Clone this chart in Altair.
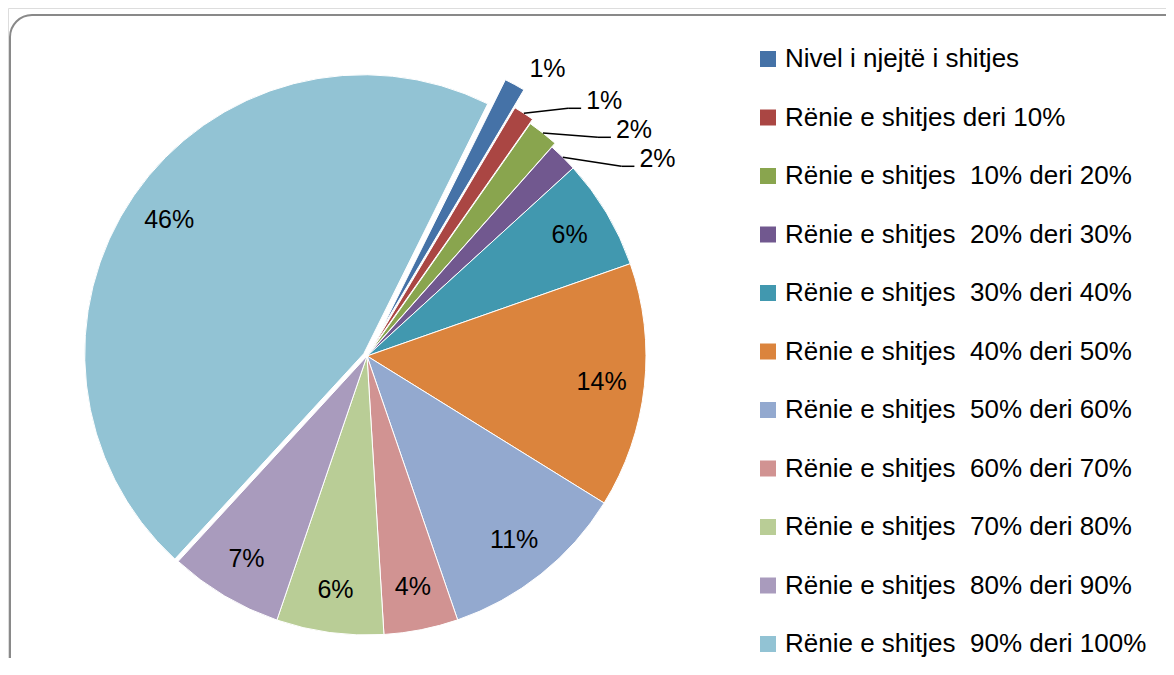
import math
import altair as alt
import pandas as pd

# ---------------- data ----------------
categories = [
    "Nivel i njejtë i shitjes",
    "Rënie e shitjes deri 10%",
    "Rënie e shitjes\u00a0 10% deri 20%",
    "Rënie e shitjes\u00a0 20% deri 30%",
    "Rënie e shitjes\u00a0 30% deri 40%",
    "Rënie e shitjes\u00a0 40% deri 50%",
    "Rënie e shitjes\u00a0 50% deri 60%",
    "Rënie e shitjes\u00a0 60% deri 70%",
    "Rënie e shitjes\u00a0 70% deri 80%",
    "Rënie e shitjes\u00a0 80% deri 90%",
    "Rënie e shitjes\u00a0 90% deri 100%",
]
values = [1.2, 1.2, 1.8, 1.7, 6.4, 14.2, 10.9, 4.3, 6.2, 6.6, 45.5]
labels = ["1%", "1%", "2%", "2%", "6%", "14%", "11%", "4%", "6%", "7%", "46%"]
colors = ["#4572A7", "#AA4643", "#89A54E", "#71588F", "#4198AF", "#DB843D",
          "#93A9CF", "#D19392", "#B9CD96", "#A99BBD", "#92C3D4"]

# ---------------- layout / style ----------------
W, H = 1158, 650
CX, CY, R = 359, 348, 279
START_DEG = 26.4
EXPLODE = {0: 30, 1: 10, 2: 5, 10: 4}   # pixels, per slice index
FONT = "Liberation Sans"
S = math.radians(START_DEG)
total = sum(values)

rows = []
cum = 0.0
for i, (c, v, lab) in enumerate(zip(categories, values, labels)):
    start, end = cum, cum + v
    mid = cum + v / 2
    cum = end
    a = S + 2 * math.pi * mid / total
    e = EXPLODE.get(i, 0)
    rows.append(dict(cat=c, value=v, start=start, end=end, mid=mid,
                     label=lab, ang=a, e=e,
                     cx=CX + e * math.sin(a), cy=CY - e * math.cos(a)))
df = pd.DataFrame(rows)

# outside labels for the small slices (spread to avoid overlap)
out_center, out_left, leaders = [], [], []
prev_y = None
for r in rows:
    if r["value"] >= 3:
        continue
    a, e = r["ang"], r["e"]
    if e >= 20:
        a2 = a + math.radians(3.6)
        rr = R + e + 30
        ly = CY - rr * math.cos(a2)
        out_center.append(dict(label=r["label"], lx=CX + rr * math.sin(a2), ly=ly))
        prev_y = ly - CY
        continue
    sx = CX + (R + e) * math.sin(a)
    sy = CY - (R + e) * math.cos(a)
    y_rel = (sy - CY) - 12
    if prev_y is not None:
        y_rel = max(y_rel, prev_y + 29)
    prev_y = y_rel
    x_rel = math.sqrt(max(336 ** 2 - y_rel ** 2, 0))
    lx, ly = CX + x_rel, CY + y_rel
    line_y = ly + 7
    ex = lx - 18
    out_left.append(dict(label=r["label"], lx=lx, ly=ly))
    leaders.append(dict(x=sx, y=sy, x2=ex, y2=line_y))
    leaders.append(dict(x=ex, y=line_y, x2=lx - 5, y2=line_y))

theta_scale = alt.Scale(domain=[0, total], range=[S, S + 2 * math.pi])
color_scale = alt.Scale(domain=categories, range=colors)

base = alt.Chart(df)

border = alt.Chart(alt.Data(values=[{"k": 1}])).mark_rect(
    fill="white", stroke="#898989", strokeWidth=2, cornerRadius=22, clip=True
).encode(x=alt.value(2), x2=alt.value(1300), y=alt.value(7), y2=alt.value(800))

arcs = base.mark_arc(radius=R, stroke="white", strokeWidth=1).encode(
    x=alt.X("cx:Q", scale=None),
    y=alt.Y("cy:Q", scale=None),
    theta=alt.Theta("start:Q", scale=theta_scale, stack=None),
    theta2="end:Q",
    color=alt.Color(
        "cat:N", scale=color_scale, sort=categories,
        legend=alt.Legend(
            orient="none", legendX=747, legendY=38, title=None,
            symbolType="square", symbolSize=256, symbolStrokeWidth=0,
            symbolOpacity=1, labelFont=FONT, labelFontSize=26,
            labelColor="#000000", labelOffset=4, rowPadding=32.5,
            labelLimit=0, padding=0,
        ),
    ),
)

inside = base.transform_filter("datum.value >= 3").mark_text(
    radius=236, font=FONT, fontSize=25, color="#000000", baseline="middle", align="center"
).encode(
    x=alt.X("cx:Q", scale=None),
    y=alt.Y("cy:Q", scale=None),
    theta=alt.Theta("mid:Q", scale=theta_scale, stack=None),
    text="label:N",
)

lead = alt.Chart(pd.DataFrame(leaders)).mark_rule(color="#000000", strokeWidth=1.5).encode(
    x=alt.X("x:Q", scale=None), y=alt.Y("y:Q", scale=None),
    x2="x2:Q", y2="y2:Q",
)

txt_left = alt.Chart(pd.DataFrame(out_left)).mark_text(
    font=FONT, fontSize=25, color="#000000", align="left", baseline="middle"
).encode(x=alt.X("lx:Q", scale=None), y=alt.Y("ly:Q", scale=None), text="label:N")

txt_center = alt.Chart(pd.DataFrame(out_center)).mark_text(
    font=FONT, fontSize=25, color="#000000", align="center", baseline="middle"
).encode(x=alt.X("lx:Q", scale=None), y=alt.Y("ly:Q", scale=None), text="label:N")

chart = alt.layer(border, arcs, inside, lead, txt_left, txt_center).properties(
    width=W, height=H, padding=0,
    autosize=alt.AutoSizeParams(type="none"),
).configure_view(stroke=None).configure(background="white")

chart.save("out.html", embed_options={"renderer": "svg", "actions": False})
